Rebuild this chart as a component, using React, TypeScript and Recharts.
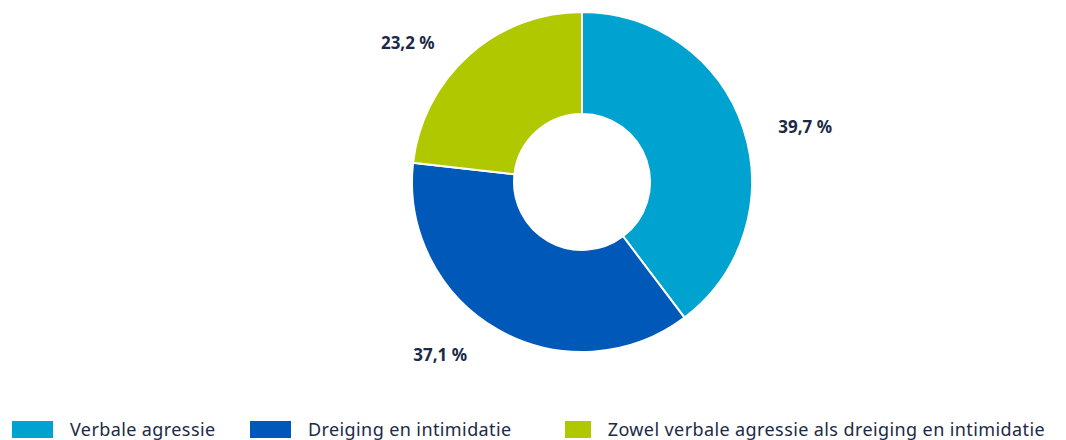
import { PieChart, Pie, Cell, Legend } from 'recharts';

const CATEGORIES = [
  'Verbale agressie',
  'Dreiging en intimidatie',
  'Zowel verbale agressie als dreiging en intimidatie',
];
const VALUES = [39.7, 37.1, 23.2];
const LABELS = ['39,7 %', '37,1 %', '23,2 %'];

const COLORS = ['#00a3d0', '#0058b8', '#b0c800'];
const TEXT_COLOR = '#1b2a47';
// label placement tweaks (degrees added to the slice mid angle)
const LABEL_SHIFT = [-4.6, -9.8, 9.6];
const LABEL_RADIUS = [230, 223, 223];
const LEGEND_WIDTHS = [238, 315, 480];

const data = CATEGORIES.map((name, i) => ({ name, value: VALUES[i], label: LABELS[i] }));

const RAD = Math.PI / 180;

function renderLabel(props: any) {
  const { cx, cy, midAngle, index } = props;
  const a = (midAngle + LABEL_SHIFT[index]) * RAD;
  const r = LABEL_RADIUS[index];
  const x = cx + r * Math.cos(a);
  const y = cy - r * Math.sin(a);
  return (
    <text
      x={x}
      y={y}
      textAnchor="middle"
      dominantBaseline="central"
      fill={TEXT_COLOR}
      fontSize={17}
      fontWeight={700}
      fontFamily="'Noto Sans', sans-serif"
    >
      {data[index].label}
    </text>
  );
}

function renderLegend() {
  return (
    <div style={{ display: 'flex', paddingLeft: 12, fontFamily: "'Noto Sans', sans-serif" }}>
      {data.map((d, i) => (
        <div key={d.name} style={{ display: 'flex', alignItems: 'center', width: LEGEND_WIDTHS[i] }}>
          <span
            style={{
              display: 'inline-block',
              width: 41,
              height: 17,
              background: COLORS[i],
              marginRight: 17,
            }}
          />
          <span style={{ fontSize: 18, lineHeight: '22px', letterSpacing: 0.4, color: TEXT_COLOR, whiteSpace: 'nowrap' }}>
            {d.name}
          </span>
        </div>
      ))}
    </div>
  );
}

export default function App() {
  return (
    <div style={{ position: 'absolute', left: 0, top: 0, width: 1066, height: 440, background: '#fff', overflow: 'hidden' }}>
      <PieChart width={1066} height={440} margin={{ top: 0, right: 0, bottom: 0, left: 0 }}>
        <Pie
          data={data}
          dataKey="value"
          cx={582}
          cy={182}
          innerRadius={68}
          outerRadius={170}
          startAngle={90}
          endAngle={-270}
          stroke="#ffffff"
          strokeWidth={2}
          label={renderLabel}
          labelLine={false}
          isAnimationActive={false}
        >
          {data.map((d, i) => (
            <Cell key={d.name} fill={COLORS[i]} />
          ))}
        </Pie>
        <Legend
          verticalAlign="bottom"
          align="left"
          content={renderLegend}
          wrapperStyle={{ left: 0, bottom: 0, width: 1066 }}
        />
      </PieChart>
    </div>
  );
}
